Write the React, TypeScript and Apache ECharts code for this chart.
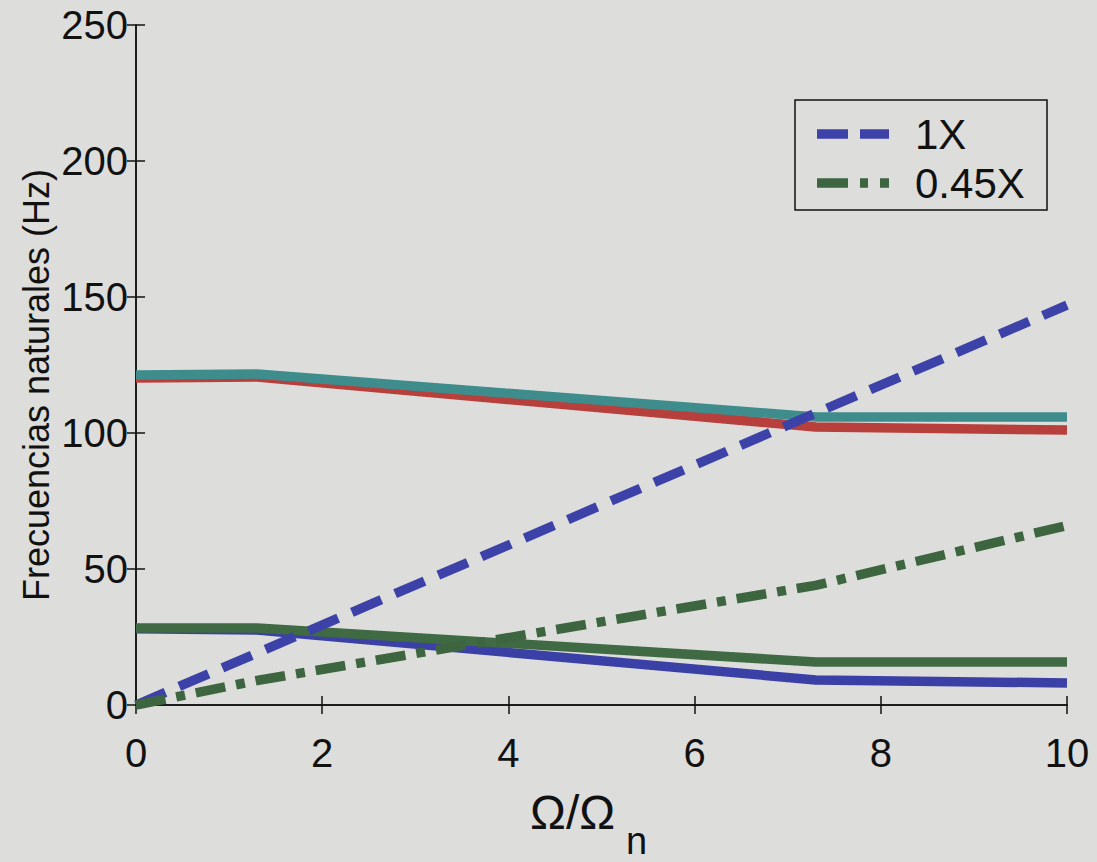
import React, { useEffect, useRef } from "react";
import * as echarts from "echarts";

// ---- Data ----
const xTicks = [0, 2, 4, 6, 8, 10];
const yTicks = [0, 50, 100, 150, 200, 250];

const modeOmega = [0, 1.3, 7.3, 10];
const modeTeal = [121.3, 121.7, 105.9, 105.9];
const modeRed = [120.2, 120.6, 102.2, 101.1];
const modeGreen = [28.3, 28.3, 15.8, 15.8];
const modeBlue = [28.0, 27.6, 9.2, 8.1];

const line1XOmega = [0, 10];
const line1XHz = [0, 147];
const line045XOmega = [0, 1.3, 7.3, 10];
const line045XHz = [0, 9, 44, 66];

const legendNames = ["1X", "0.45X"];

const BG = "#dddedb";
const FONT = "'Liberation Sans', Arial, Helvetica, sans-serif";
const C_1X = "#3d42a8";
const C_045X = "#3d6640";
const LW_DATA = 9.5;
const DASH_1X = [32, 15];
const DASH_045X = [30, 11, 9, 11];

const pairs = (xs: number[], ys: number[]) => xs.map((x, i) => [x, ys[i]]);

export default function App() {
  const ref = useRef<HTMLDivElement>(null);

  useEffect(() => {
    if (!ref.current) return;
    const chart = echarts.init(ref.current, undefined, { renderer: "svg" });

    const axisLine = { show: true, lineStyle: { color: "#111", width: 1.5 } };
    const tick = { show: true, inside: true, length: 9, lineStyle: { color: "#111", width: 1.5 } };

    const solid = (name: string, data: number[], color: string) => ({
      name,
      type: "line",
      data: pairs(modeOmega, data),
      symbol: "none",
      lineStyle: { color, width: LW_DATA, cap: "butt", join: "round" },
      itemStyle: { color },
      silent: true,
      z: 2,
    });

    // legend box (drawn by hand so the line samples keep their dash patterns)
    const LX = 795, LY = 100, LW = 252, LH = 110;
    const legendRows = [
      { name: legendNames[0], color: C_1X, dash: [31, 12], y: LY + 34 },
      { name: legendNames[1], color: C_045X, dash: [31, 12, 8, 12], y: LY + 83 },
    ];
    const legendGraphics: any[] = [
      {
        type: "rect",
        shape: { x: LX, y: LY, width: LW, height: LH },
        style: { fill: BG, stroke: "#111", lineWidth: 1.5 },
        z: 10,
      },
    ];
    legendRows.forEach((r) => {
      legendGraphics.push({
        type: "line",
        shape: { x1: LX + 22, y1: r.y, x2: LX + 94, y2: r.y },
        style: { stroke: r.color, lineWidth: LW_DATA, lineDash: r.dash, lineCap: "butt" },
        z: 11,
      });
      legendGraphics.push({
        type: "text",
        x: LX + 120,
        y: r.y,
        style: {
          text: r.name,
          fontSize: 42,
          fontFamily: FONT,
          fill: "#111",
          align: "left",
          verticalAlign: "middle",
        },
        z: 11,
      });
    });

    chart.setOption({
      animation: false,
      backgroundColor: BG,
      grid: { left: 136, right: 30, top: 25, bottom: 157, containLabel: false },
      xAxis: [
        {
          type: "value",
          min: 0,
          max: 10,
          interval: 2,
          position: "bottom",
          axisLine,
          axisTick: tick,
          splitLine: { show: false },
          axisLabel: {
            margin: 28,
            fontSize: 40,
            color: "#111",
            fontFamily: FONT,
            formatter: (v: number) => (xTicks.includes(v) ? String(v) : ""),
          },
        },
        {
          type: "value",
          min: 0,
          max: 10,
          interval: 2,
          position: "top",
          axisLine,
          axisTick: tick,
          splitLine: { show: false },
          axisLabel: { show: false },
        },
      ],
      yAxis: [
        {
          type: "value",
          min: 0,
          max: 250,
          interval: 50,
          position: "left",
          axisLine,
          axisTick: tick,
          splitLine: { show: false },
          axisLabel: {
            margin: 8,
            fontSize: 40,
            color: "#111",
            fontFamily: FONT,
            formatter: (v: number) => (yTicks.includes(v) ? String(v) : ""),
          },
        },
        {
          type: "value",
          min: 0,
          max: 250,
          interval: 50,
          position: "right",
          axisLine,
          axisTick: tick,
          splitLine: { show: false },
          axisLabel: { show: false },
        },
      ],
      graphic: [
        {
          type: "text",
          x: 36,
          y: 385,
          rotation: Math.PI / 2,
          style: {
            text: "Frecuencias naturales (Hz)",
            fontSize: 36,
            fontFamily: FONT,
            fill: "#111",
            align: "center",
            verticalAlign: "middle",
          },
        },
        {
          type: "text",
          x: 530,
          y: 788,
          style: { text: "Ω/Ω", fontSize: 48, fontFamily: FONT, fill: "#111" },
        },
        {
          type: "text",
          x: 626,
          y: 822,
          style: { text: "n", fontSize: 38, fontFamily: FONT, fill: "#111" },
        },
        ...legendGraphics,
      ],
      series: [
        solid("Modo 1 (rojo)", modeRed, "#b8403c"),
        solid("Modo 1 (cian)", modeTeal, "#3e8c8c"),
        solid("Modo 2 (azul)", modeBlue, "#3b40a6"),
        solid("Modo 2 (verde)", modeGreen, "#3f6a43"),
        {
          name: legendNames[0],
          type: "line",
          data: pairs(line1XOmega, line1XHz),
          symbol: "none",
          lineStyle: { color: C_1X, width: LW_DATA, type: DASH_1X, cap: "butt" },
          itemStyle: { color: C_1X },
          silent: true,
          z: 3,
        },
        {
          name: legendNames[1],
          type: "line",
          data: pairs(line045XOmega, line045XHz),
          symbol: "none",
          lineStyle: { color: C_045X, width: LW_DATA, type: DASH_045X, cap: "butt" },
          itemStyle: { color: C_045X },
          silent: true,
          z: 3,
        },
      ],
    });

    return () => chart.dispose();
  }, []);

  return (
    <div
      ref={ref}
      style={{ position: "fixed", left: 0, top: 0, width: 1097, height: 862, background: BG }}
    />
  );
}
